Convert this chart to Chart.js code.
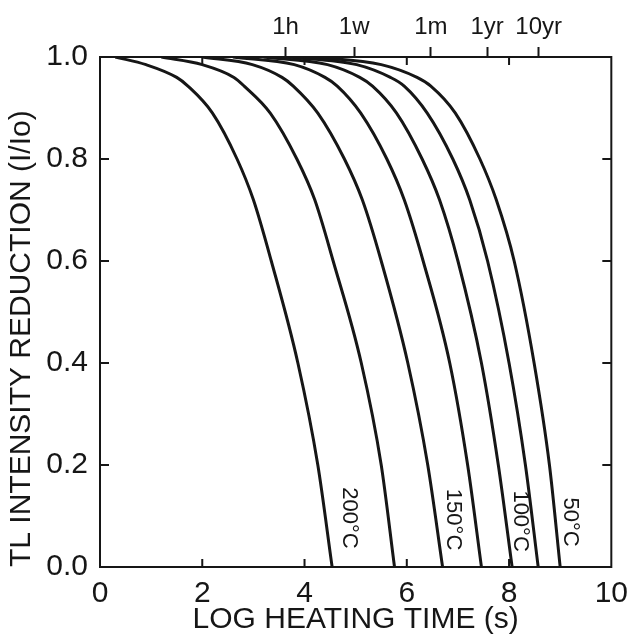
<!DOCTYPE html>
<html lang="en">
<head>
<meta charset="UTF-8">
<title>TL intensity reduction vs log heating time</title>
<script src="https://cdn.jsdelivr.net/npm/chart.js@4.4.0/dist/chart.umd.min.js"></script>
<style>
  html, body { margin: 0; padding: 0; background: #fff; }
  #wrap { width: 629px; height: 638px; position: relative; }
</style>
</head>
<body>
<div id="wrap"><canvas id="chart"></canvas></div>
<script>
// log heating time (s) -> I/Io, one curve per storage temperature
const curve200 = [[0.3, 1.0], [0.9, 0.985], [1.5, 0.96], [1.72, 0.943], [2.2, 0.89], [2.68, 0.8], [3.0, 0.72], [3.35, 0.6], [3.87, 0.4], [4.26, 0.2], [4.54, 0]];
const curve175 = [[1.2, 1.0], [2.0, 0.985], [2.62, 0.96], [2.82, 0.943], [3.33, 0.89], [3.85, 0.8], [4.2, 0.72], [4.56, 0.6], [5.11, 0.4], [5.5, 0.2], [5.76, 0]];
const curve150 = [[2.0, 1.0], [2.98, 0.985], [3.56, 0.96], [3.78, 0.943], [4.26, 0.89], [4.78, 0.8], [5.13, 0.72], [5.5, 0.6], [6.02, 0.4], [6.41, 0.2], [6.7, 0]];
const curve125 = [[2.6, 1.0], [3.8, 0.985], [4.4, 0.96], [4.64, 0.943], [5.1, 0.89], [5.61, 0.8], [5.95, 0.72], [6.32, 0.6], [6.84, 0.4], [7.19, 0.2], [7.46, 0]];
const curve100 = [[3.2, 1.0], [4.45, 0.985], [5.08, 0.96], [5.33, 0.943], [5.8, 0.89], [6.3, 0.8], [6.64, 0.72], [7.0, 0.6], [7.46, 0.4], [7.79, 0.2], [8.06, 0]];
const curve75 = [[3.7, 1.0], [5.02, 0.985], [5.68, 0.96], [5.95, 0.943], [6.4, 0.89], [6.9, 0.8], [7.23, 0.72], [7.58, 0.6], [8.0, 0.4], [8.32, 0.2], [8.57, 0]];
const curve50 = [[4.2, 1.0], [5.5, 0.985], [6.2, 0.96], [6.47, 0.943], [6.95, 0.89], [7.43, 0.8], [7.75, 0.72], [8.1, 0.6], [8.49, 0.4], [8.79, 0.2], [9.0, 0]];

// labels written along some of the curves
const labelText = ['200°C', '150°C', '100°C', '50°C'];
const labelX = [4.87, 6.9, 8.22, 9.2];
const labelY = [0.096, 0.093, 0.09, 0.088];

// top time axis
const timeTickPos = [3.63, 4.97, 6.47, 7.57, 8.58];
const timeTickLabels = ['1h', '1w', '1m', '1yr', '10yr'];

// small inward ticks on the frame
const innerXTicks = [2, 4, 6, 8];
const innerYTicks = [0.2, 0.4, 0.6, 0.8];

const FONT = "'Liberation Sans', Arial, sans-serif";
const INK = '#161616';

function toPoints(arr) {
  return arr.map(p => ({ x: p[0], y: p[1] }));
}

const frame = {
  id: 'frame',
  afterDatasetsDraw(chart) {
    const ctx = chart.ctx;
    const a = chart.chartArea;
    const x = chart.scales.x;
    const y = chart.scales.y;
    ctx.save();
    ctx.strokeStyle = INK;
    ctx.lineWidth = 2;
    ctx.strokeRect(a.left, a.top, a.right - a.left, a.bottom - a.top);

    ctx.beginPath();
    innerXTicks.forEach(v => {
      const px = x.getPixelForValue(v);
      ctx.moveTo(px, a.bottom);
      ctx.lineTo(px, a.bottom - 8);
      ctx.moveTo(px, a.top);
      ctx.lineTo(px, a.top + 8);
    });
    innerYTicks.forEach(v => {
      const py = y.getPixelForValue(v);
      ctx.moveTo(a.left, py);
      ctx.lineTo(a.left + 9, py);
      ctx.moveTo(a.right, py);
      ctx.lineTo(a.right - 9, py);
    });
    ctx.stroke();

    ctx.fillStyle = INK;
    ctx.font = '22px ' + FONT;
    ctx.textAlign = 'center';
    ctx.textBaseline = 'middle';
    labelText.forEach((t, i) => {
      ctx.save();
      ctx.translate(x.getPixelForValue(labelX[i]), y.getPixelForValue(labelY[i]));
      ctx.rotate(Math.PI / 2);
      ctx.fillText(t, 0, 0);
      ctx.restore();
    });
    ctx.restore();
  }
};

const curves = [curve200, curve175, curve150, curve125, curve100, curve75, curve50];

new Chart(document.getElementById('chart'), {
  type: 'line',
  data: {
    datasets: curves.map(c => ({
      data: toPoints(c),
      borderColor: INK,
      borderWidth: 3,
      pointRadius: 0,
      fill: false,
      cubicInterpolationMode: 'monotone'
    }))
  },
  options: {
    responsive: true,
    maintainAspectRatio: false,
    animation: false,
    layout: { padding: { top: 0, right: 17, bottom: 0, left: 0 } },
    plugins: { legend: { display: false }, tooltip: { enabled: false } },
    scales: {
      x: {
        type: 'linear',
        position: 'bottom',
        min: 0,
        max: 10,
        afterFit(s) { s.height = 71; },
        ticks: { stepSize: 2, color: INK, font: { size: 30, family: FONT }, padding: 1, maxRotation: 0 },
        grid: { display: false },
        border: { display: false },
        title: {
          display: true,
          text: 'LOG HEATING TIME (s)',
          color: INK,
          font: { size: 30, family: FONT },
          padding: { top: 0, bottom: 0 }
        }
      },
      xTop: {
        type: 'linear',
        position: 'top',
        min: 0,
        max: 10,
        afterFit(s) { s.height = 57; },
        afterBuildTicks(s) { s.ticks = timeTickPos.map(v => ({ value: v })); },
        ticks: {
          autoSkip: false,
          maxRotation: 0,
          color: INK,
          font: { size: 24, family: FONT },
          padding: 5,
          callback: (v, i) => timeTickLabels[i]
        },
        grid: { drawOnChartArea: false, drawTicks: true, tickLength: 10, tickWidth: 2, tickColor: INK },
        border: { display: false }
      },
      y: {
        type: 'linear',
        min: 0,
        max: 1,
        afterFit(s) { s.width = 100; },
        ticks: { stepSize: 0.2, color: INK, font: { size: 30, family: FONT }, padding: 4, callback: v => v.toFixed(1) },
        grid: { display: false },
        border: { display: false },
        title: {
          display: true,
          text: 'TL INTENSITY REDUCTION (I/Io)',
          align: 'start',
          color: INK,
          font: { size: 30, family: FONT },
          padding: { top: 4, bottom: 0 }
        }
      }
    }
  },
  plugins: [frame]
});
</script>
</body>
</html>
